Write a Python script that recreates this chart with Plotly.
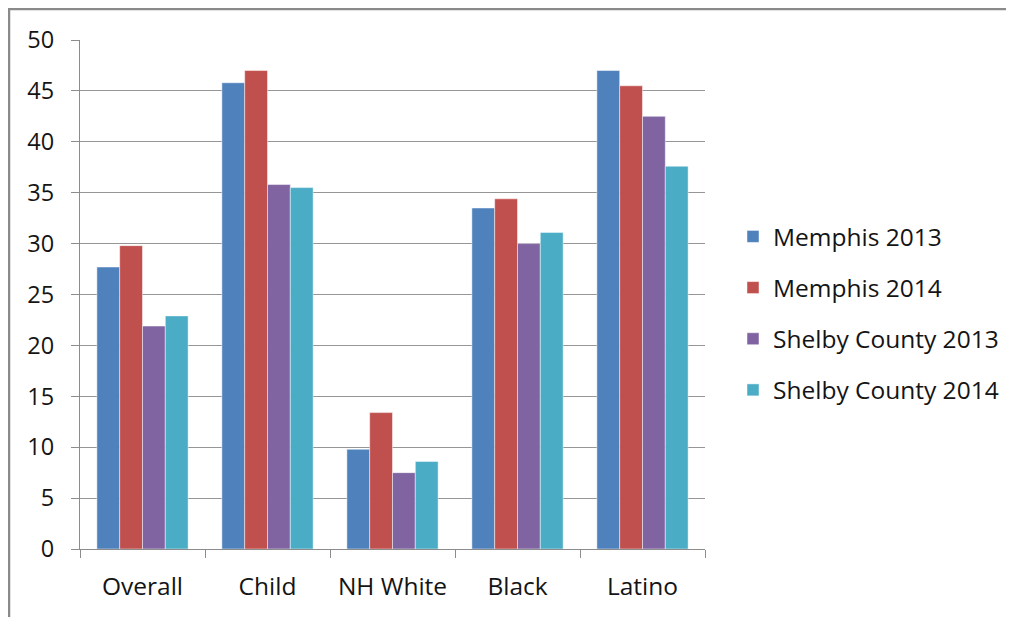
import plotly.graph_objects as go

categories = ["Overall", "Child", "NH White", "Black", "Latino"]
memphis_2013 = [27.7, 45.8, 9.8, 33.5, 47.0]
memphis_2014 = [29.8, 47.0, 13.4, 34.4, 45.5]
shelby_2013 = [21.9, 35.8, 7.5, 30.0, 42.5]
shelby_2014 = [22.9, 35.5, 8.6, 31.1, 37.6]
series_names = ["Memphis 2013", "Memphis 2014", "Shelby County 2013", "Shelby County 2014"]
colors = ["#4F81BD", "#C0504D", "#8064A2", "#4BACC6"]
y_ticks = [0, 5, 10, 15, 20, 25, 30, 35, 40, 45, 50]

FONT = "Open Sans, Lato, sans-serif"
fig = go.Figure()
for i, (name, vals) in enumerate(zip(series_names, [memphis_2013, memphis_2014, shelby_2013, shelby_2014])):
    fig.add_trace(go.Bar(
        x=categories, y=vals, name=name, legendgroup=name,
        marker=dict(color=colors[i], line=dict(color="rgba(255,255,255,0.6)", width=0.8)),
    ))

# page body has an 8px margin: the figure starts at window pixel (8, 8)
OFF = 8
W, H = 1014 - OFF, 617 - OFF
L, T = 80 - OFF, 40 - OFF
pw, ph = 625, 509
R, B = W - L - pw, H - T - ph

def px_x(px):
    return (px - OFF - L) / pw

def px_y(py):
    return (T + ph - (py - OFF)) / ph

fig.update_layout(
    width=W, height=H,
    margin=dict(l=L, r=R, t=T, b=B, autoexpand=False),
    paper_bgcolor="white", plot_bgcolor="white",
    barmode="group", bargap=0.27, bargroupgap=0,
    font=dict(family=FONT, size=24, color="#141414"),
    legend=dict(
        x=px_x(733), y=px_y(214), xanchor="left", yanchor="top",
        font=dict(family=FONT, size=24.5, color="#141414"),
        tracegroupgap=16.3, traceorder="grouped",
        itemwidth=30, bgcolor="rgba(0,0,0,0)",
    ),
    xaxis=dict(
        showline=True, linecolor="#8c8c8c", linewidth=1.3,
        ticks="outside", tickson="boundaries", ticklen=8, tickcolor="#8c8c8c", tickwidth=1.3,
        tickfont=dict(family=FONT, size=24.5, color="#141414"),
        ticklabelstandoff=15,
        showgrid=False, fixedrange=True,
    ),
    yaxis=dict(
        range=[0, 50], tickvals=y_ticks,
        showline=True, linecolor="#8c8c8c", linewidth=1.3,
        ticks="outside", ticklen=8, tickcolor="#8c8c8c", tickwidth=1.3,
        showgrid=True, gridcolor="#969696", gridwidth=1.3,
        zeroline=False,
        tickfont=dict(family=FONT, size=23.5, color="#141414"),
        ticklabelstandoff=12,
        fixedrange=True,
    ),
    shapes=[
        dict(type="line", xref="paper", yref="paper", x0=px_x(8), x1=px_x(1013), y0=px_y(9), y1=px_y(9),
             line=dict(color="#8a8a8a", width=2.5)),
        dict(type="line", xref="paper", yref="paper", x0=px_x(9), x1=px_x(9), y0=px_y(8), y1=px_y(617),
             line=dict(color="#8a8a8a", width=2.5)),
    ],
)

fig.write_html("out.html")
